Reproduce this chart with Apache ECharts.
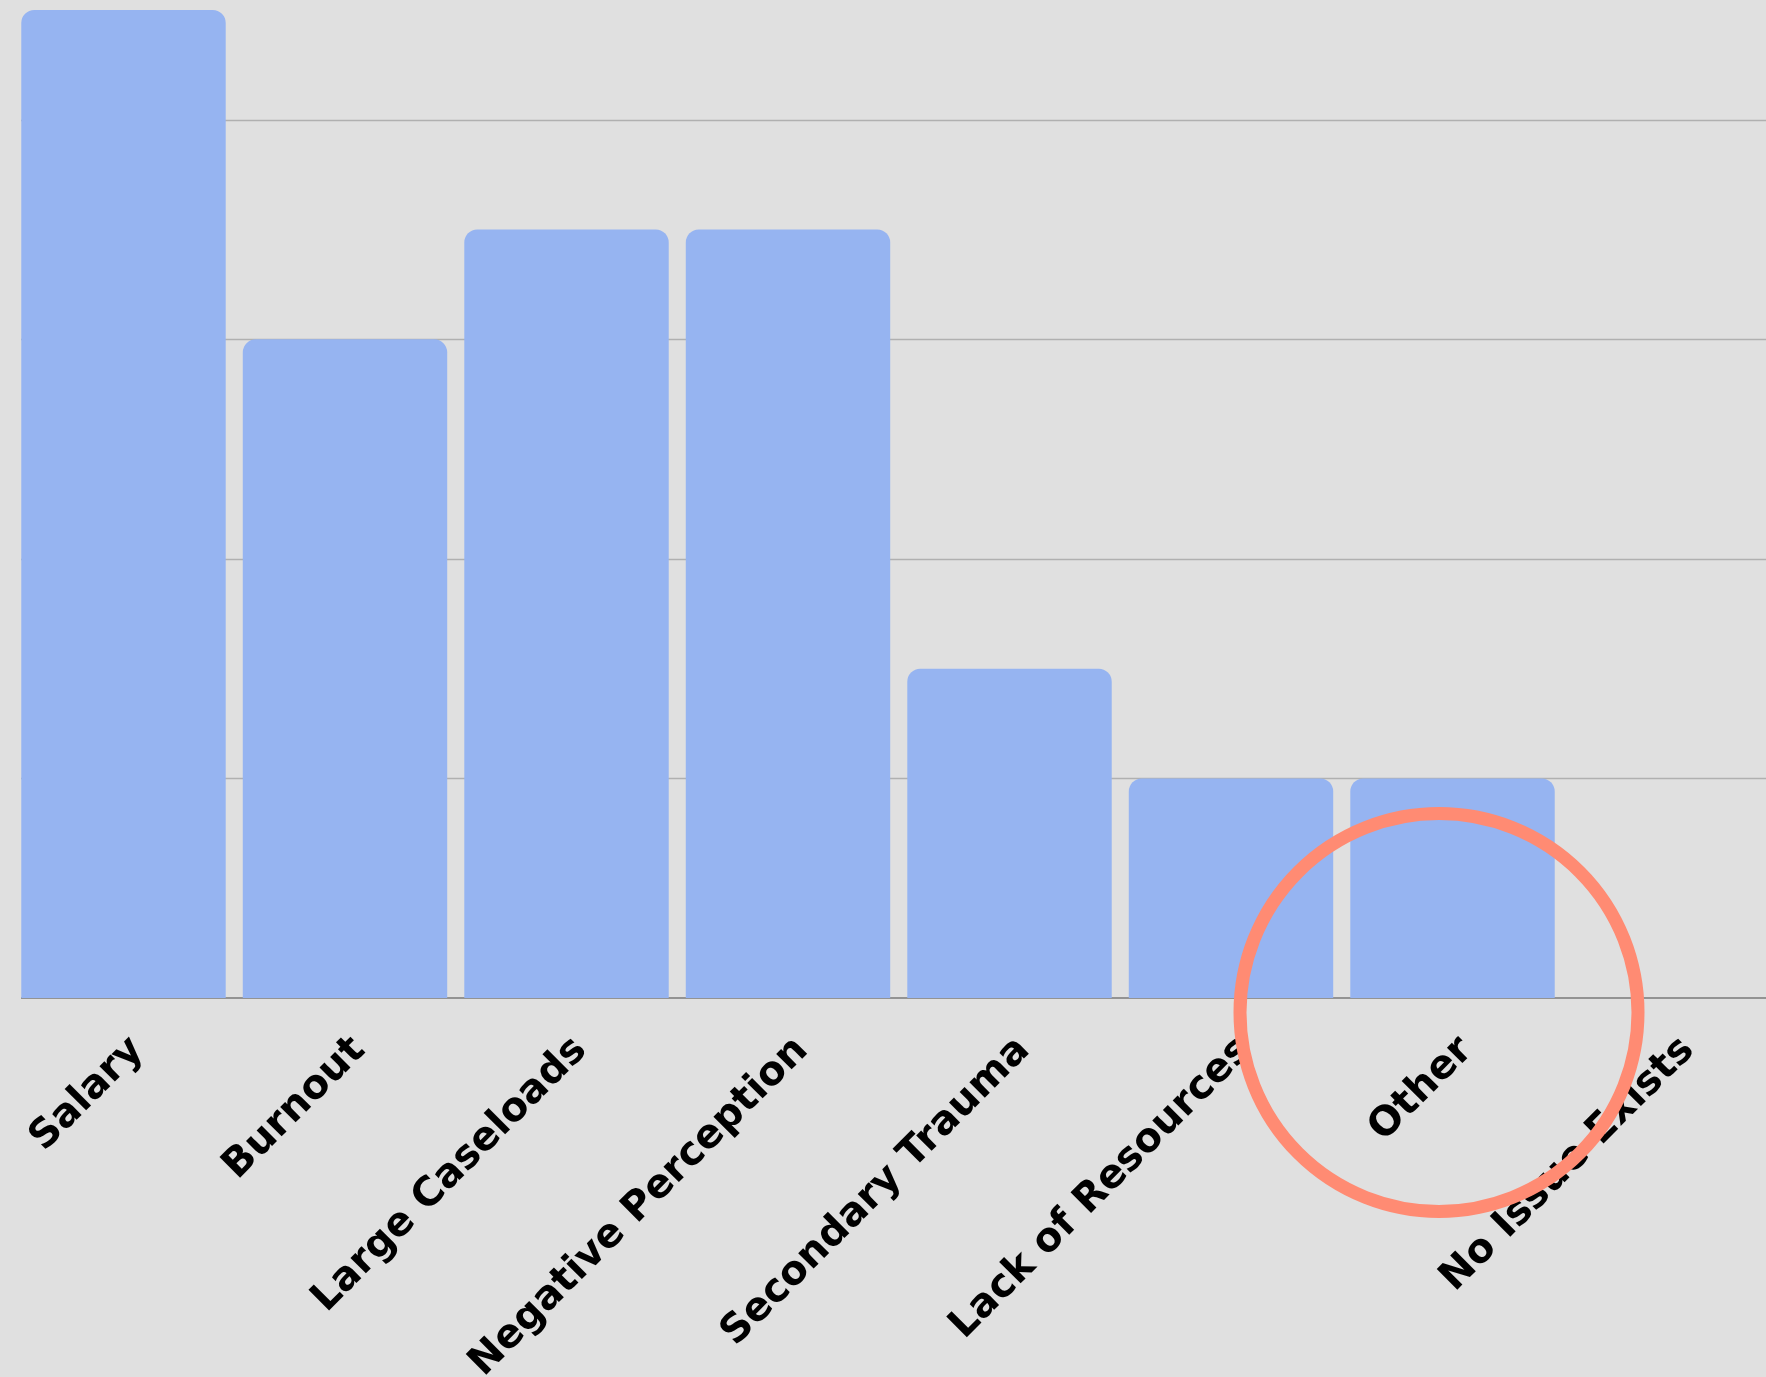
<!DOCTYPE html>
<html>
<head>
<meta charset="utf-8">
<script src="https://cdn.jsdelivr.net/npm/echarts@6/dist/echarts.min.js"></script>
<style>
  html, body { margin: 0; padding: 0; background: #e0e0e0; }
  #chart { width: 1766px; height: 1377px; }
</style>
</head>
<body>
<div id="chart"></div>
<script>
const categories = ['Salary', 'Burnout', 'Large Caseloads', 'Negative Perception', 'Secondary Trauma', 'Lack of Resources', 'Other', 'No Issue Exists'];
const values = [9, 6, 7, 7, 3, 2, 2, 0];
const highlighted = 'Other';

const chart = echarts.init(document.getElementById('chart'), null, { renderer: 'canvas' });
chart.setOption({
  backgroundColor: '#e0e0e0',
  animation: false,
  grid: { left: 12.75, top: 10, width: 1772, height: 988, containLabel: false, outerBoundsMode: 'none' },
  xAxis: {
    type: 'category',
    data: categories,
    axisTick: { show: false },
    axisLine: { show: true, lineStyle: { color: '#7a7a7a', width: 1.5 } },
    axisLabel: {
      interval: 0,
      rotate: 45,
      margin: 32,
      verticalAlign: 'top',
      color: '#000',
      fontFamily: 'DejaVu Sans',
      fontWeight: 'bold',
      fontSize: 40
    }
  },
  yAxis: {
    type: 'value',
    min: 0,
    max: 9,
    interval: 2,
    axisLabel: { show: false },
    axisLine: { show: false },
    axisTick: { show: false },
    splitLine: { show: true, showMinLine: false, showMaxLine: false, lineStyle: { color: '#b0b0b0', width: 1.3 } }
  },
  series: [{
    type: 'bar',
    data: values,
    barCategoryGap: '7.7%',
    itemStyle: { color: '#96b4f1', borderRadius: [13, 13, 0, 0] }
  }]
});

const p = chart.convertToPixel({ xAxisIndex: 0, yAxisIndex: 0 }, [highlighted, 0]);
const first = chart.convertToPixel({ xAxisIndex: 0, yAxisIndex: 0 }, [categories[0], 0]);
chart.setOption({
  graphic: [{
    type: 'rect',
    z: 1,
    silent: true,
    shape: { x: 0, y: 0, width: first[0] - 102.5, height: first[1] + 2 },
    style: { fill: '#e0e0e0' }
  }, {
    type: 'circle',
    z: 100,
    shape: { cx: p[0] - 13.5, cy: p[1] + 14.5, r: 199 },
    style: { fill: 'none', stroke: '#ff8b73', lineWidth: 13 }
  }]
});
</script>
</body>
</html>
